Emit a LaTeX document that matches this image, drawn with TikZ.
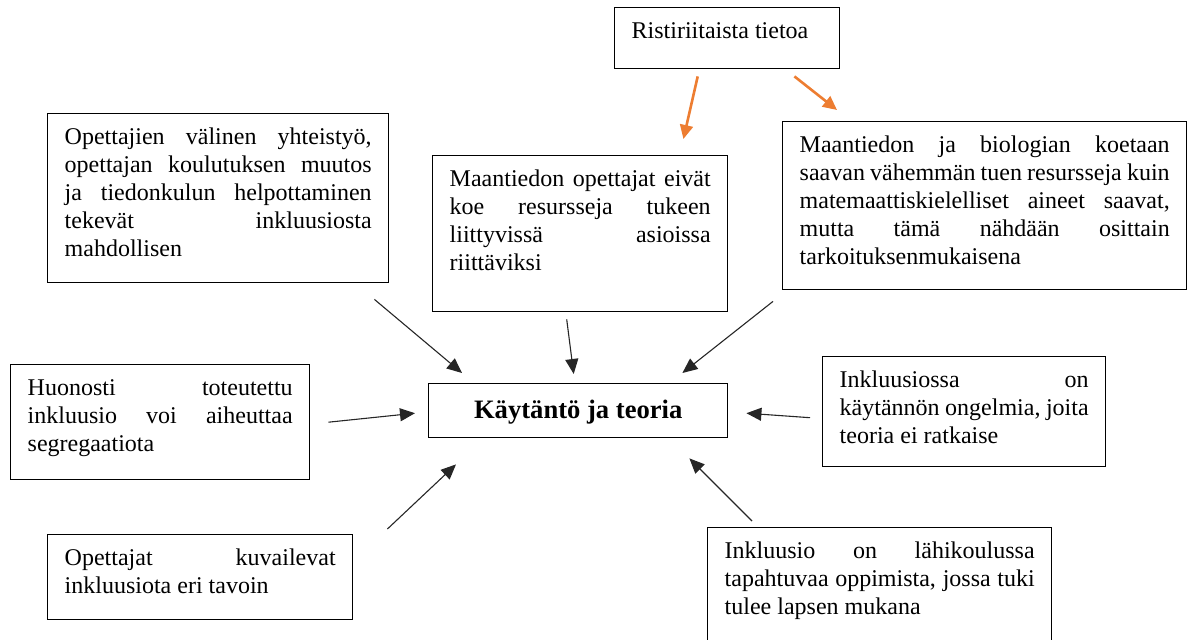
\documentclass[tikz,border=0pt]{standalone}
\usepackage{fontspec}
\setmainfont{Liberation Serif}
\usepackage{xcolor}
\usepackage{tikz}
\usetikzlibrary{arrows.meta}
\usetikzlibrary{calc}
\definecolor{oranssi}{RGB}{237,125,49}
\hyphenpenalty=10000
\exhyphenpenalty=10000
\tolerance=10000
\hbadness=10000

\begin{document}
\begin{tikzpicture}[x=0.5pt, y=-0.5pt,
        box/.style={draw, line width=0.7pt, anchor=north west, inner xsep=8.5pt, inner ysep=0pt,
            align=justify, font=\fontsize{12}{14}\selectfont, text height=15.5pt},
        arr/.style={-{Triangle[length=7.5pt,width=6.5pt]}, line width=0.55pt, draw=black!85},
        oarr/.style={-{Triangle[length=7pt,width=6.5pt]}, line width=1.3pt, draw=oranssi}]
        \clip (0,0) rectangle (1187,640);
        \node[box, text width=95.5pt, text depth=15pt] (risti) at (614,7) {Ristiriitaista tietoa};
        \node[box, text width=153.5pt, text depth=69pt] (opet) at (47,113) {Opettajien välinen yhteistyö,\linebreak opettajan koulutuksen muutos\linebreak ja tiedonkulun helpottaminen\linebreak tekevät inkluusiosta\linebreak mahdollisen};
        \node[box, text width=130.5pt, text depth=62.5pt] (maopet) at (432,155) {Maantiedon opettajat eivät\linebreak koe resursseja tukeen\linebreak liittyvissä asioissa\linebreak riittäviksi};
        \node[box, text width=185pt, text depth=68.5pt] (mabio) at (782,121) {Maantiedon ja biologian koetaan\linebreak saavan vähemmän tuen resursseja kuin\linebreak matemaattiskielelliset aineet saavat,\linebreak mutta tämä nähdään osittain\linebreak tarkoituksenmukaisena};
        \node[draw, line width=0.7pt, anchor=north west, inner sep=0pt, minimum width=149.5pt, minimum height=27pt,
            text height=10pt, text depth=2.5pt, font=\fontsize{13.3}{16}\selectfont\bfseries] (kt) at (428,383) {Käytäntö ja teoria};
        \node[box, text width=132.5pt, text depth=42pt] (huon) at (10,364) {Huonosti toteutettu\linebreak inkluusio voi aiheuttaa\linebreak segregaatiota};
        \node[box, text width=124.5pt, text depth=39.5pt] (inkl) at (822,356) {Inkluusiossa on\linebreak käytännön ongelmia, joita\linebreak teoria ei ratkaise};
        \node[box, text width=135.5pt, text depth=27pt] (kuva) at (47,534) {Opettajat kuvailevat\linebreak inkluusiota eri tavoin};
        \node[box, text width=155pt, text depth=51pt] (lahi) at (707,527) {Inkluusio on lähikoulussa\linebreak tapahtuvaa oppimista, jossa tuki\linebreak tulee lapsen mukana};

        \draw[oarr] ($(risti.south)+(-29.5,7)$) -- ($(maopet.north east)+(-45,-16)$);
        \draw[oarr] ($(risti.south east)+(-46,7)$) -- ($(mabio.north west)+(55,-11)$);

        \draw[arr] ($(opet.south east)+(-15,16)$) -- ($(kt.north west)+(34,-10)$);
        \draw[arr] ($(maopet.south)+(-13.5,7)$) -- ($(kt.north)+(-4.5,-9)$);
        \draw[arr] ($(mabio.south west)+(-9,11)$) -- ($(kt.north east)+(-46,-10)$);
        \draw[arr] ($(huon.east)+(18,0)$) -- ($(kt.west)+(-13,2.5)$);
        \draw[arr] ($(inkl.west)+(-12,6)$) -- ($(kt.east)+(18,2.5)$);
        \draw[arr] ($(kuva.north east)+(34,-5)$) -- ($(kt.south west)+(28,26)$);
        \draw[arr] ($(lahi.north west)+(45,-6)$) -- ($(kt.south east)+(-39,20)$);
    \end{tikzpicture}
\end{document}
